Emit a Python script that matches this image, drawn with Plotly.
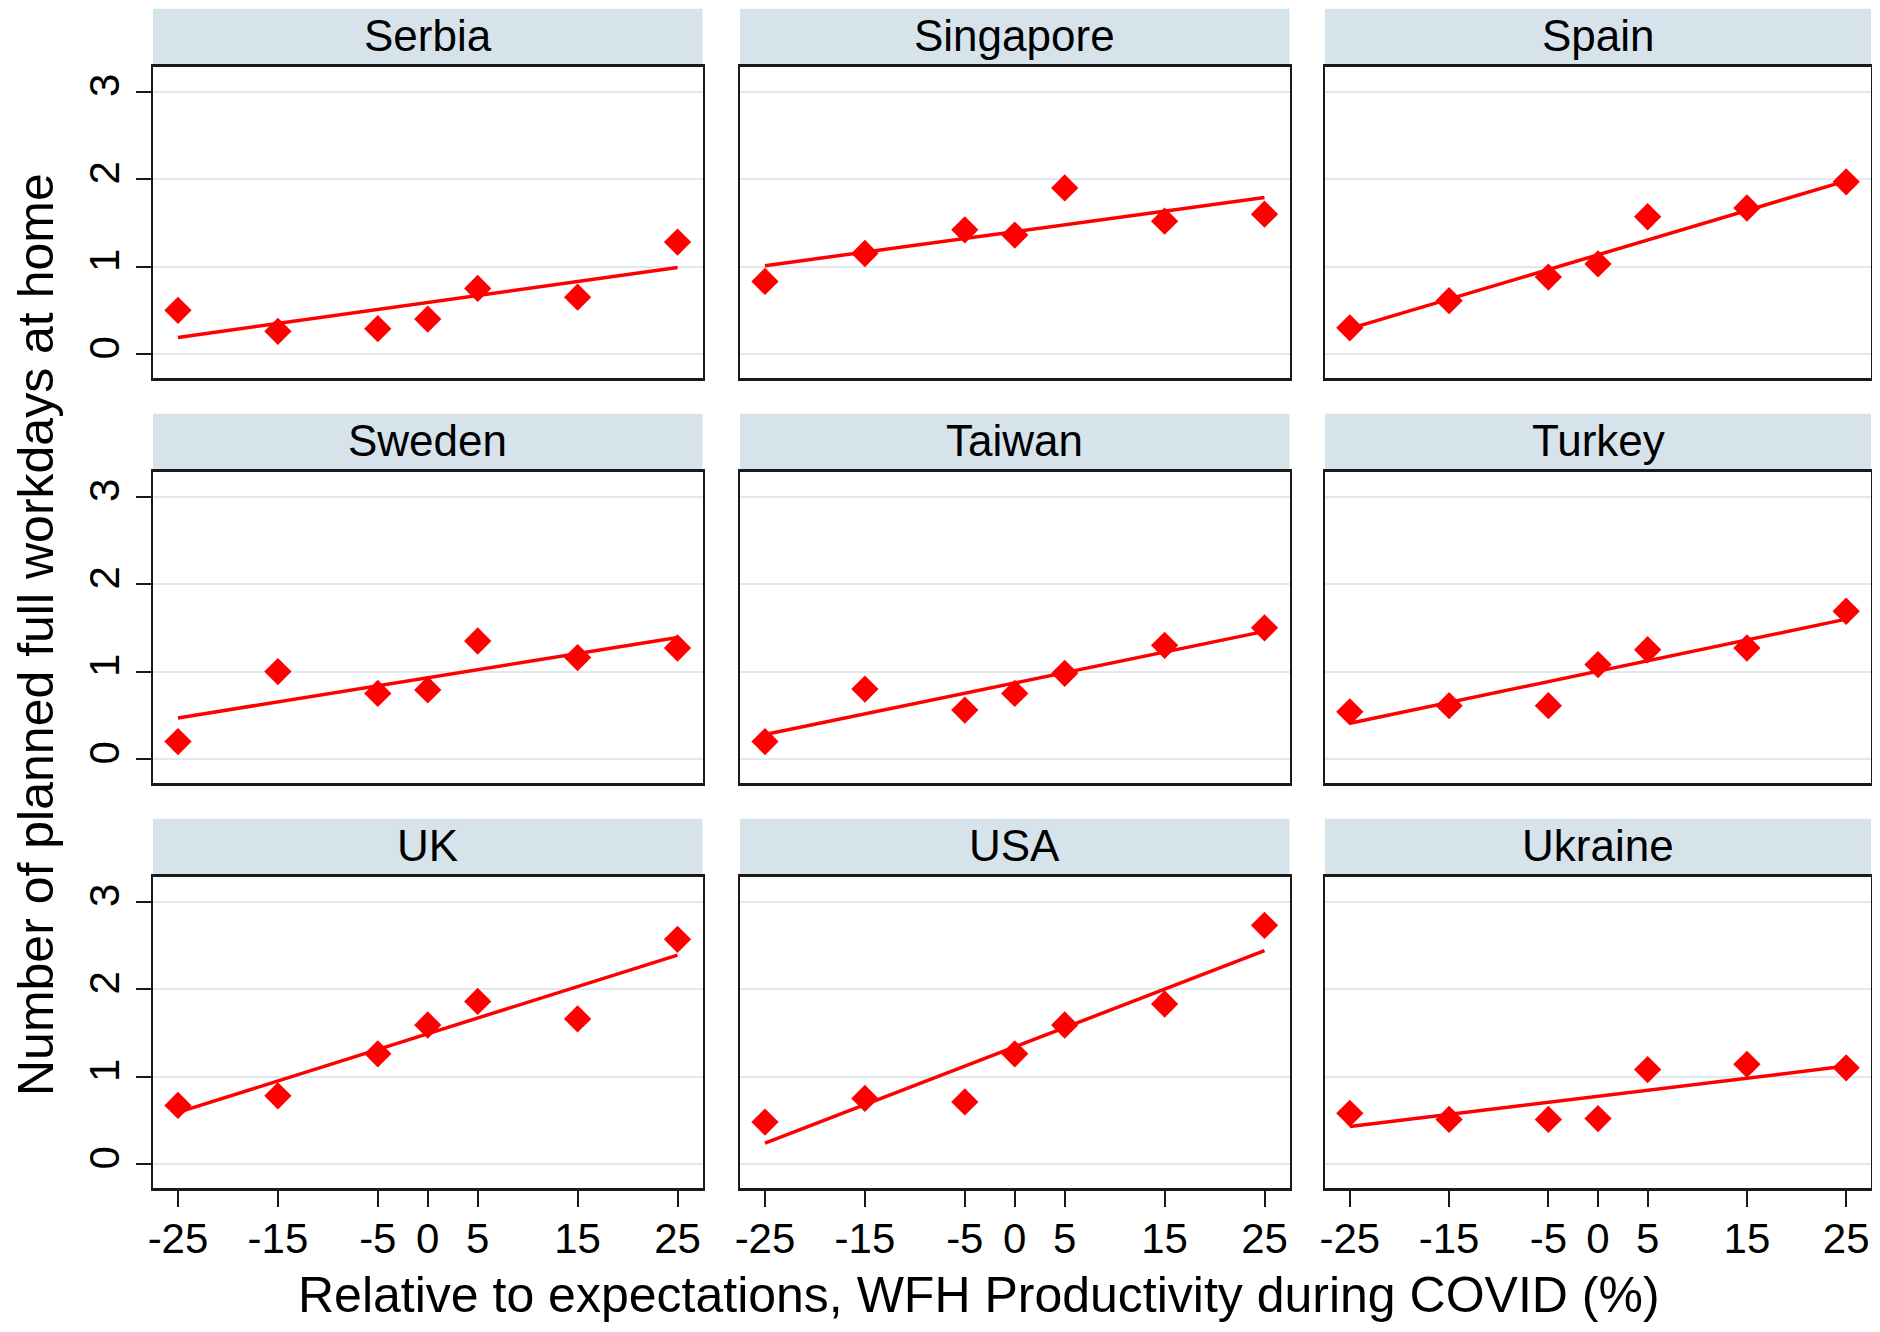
import plotly.graph_objects as go

# ---------------- data ----------------
countries = ["Serbia", "Singapore", "Spain", "Sweden", "Taiwan", "Turkey", "UK", "USA", "Ukraine"]
x_vals = [-25, -15, -5, 0, 5, 15, 25]

serbia = [0.50, 0.26, 0.29, 0.40, 0.75, 0.65, 1.28]
singapore = [0.83, 1.15, 1.42, 1.36, 1.90, 1.52, 1.60]
spain = [0.30, 0.61, 0.88, 1.03, 1.57, 1.67, 1.97]
sweden = [0.20, 1.00, 0.75, 0.79, 1.35, 1.16, 1.27]
taiwan = [0.20, 0.80, 0.56, 0.75, 0.98, 1.30, 1.50]
turkey = [0.54, 0.61, 0.61, 1.08, 1.25, 1.27, 1.69]
uk = [0.67, 0.78, 1.26, 1.59, 1.86, 1.66, 2.57]
usa = [0.48, 0.75, 0.71, 1.26, 1.59, 1.83, 2.73]
ukraine = [0.58, 0.51, 0.51, 0.52, 1.08, 1.14, 1.10]

# fitted line values at x = -25 and x = 25
fit_x = [-25, 25]
fit_start = [0.19, 1.01, 0.29, 0.47, 0.28, 0.41, 0.59, 0.24, 0.43]
fit_end = [0.99, 1.79, 1.98, 1.39, 1.46, 1.60, 2.39, 2.44, 1.12]

x_ticks = [-25, -15, -5, 0, 5, 15, 25]
y_ticks = [0, 1, 2, 3]

x_title = "Relative to expectations, WFH Productivity during COVID (%)"
y_title = "Number of planned full workdays at home"

series = [serbia, singapore, spain, sweden, taiwan, turkey, uk, usa, ukraine]

# ---------------- layout geometry (window pixels) ----------------
OFF = 8                      # default page margin around the plot div
W, H = 1880 - 2 * OFF, 1332 - 2 * OFF
col_left = [153, 740, 1325]
col_right = [702.5, 1289.5, 1871]
row_top = [66.7, 471.7, 876.7]
row_h = 311.3
strip_h = 58.0


def px_x(p):
    return min(1.0, max(0.0, (p - OFF) / W))


def px_y(p):
    return min(1.0, max(0.0, 1 - (p - OFF) / H))


FONT = "Liberation Sans, Arial, Helvetica, sans-serif"
RED = "#FF0000"
FRAME = "#1a1a1a"
GRID = "#DFE9EE"
STRIP = "#D7E3EA"

fig = go.Figure()
layout = dict(
    width=W, height=H,
    margin=dict(l=0, r=0, t=0, b=0, autoexpand=False),
    paper_bgcolor="white", plot_bgcolor="white",
    showlegend=False, hovermode=False,
    font=dict(family=FONT, color="black"),
)
shapes = []
annotations = []

for i, name in enumerate(countries):
    r, c = divmod(i, 3)
    k = i + 1
    xa = "x" if k == 1 else f"x{k}"
    ya = "y" if k == 1 else f"y{k}"
    top = row_top[r]
    xd = [px_x(col_left[c]), px_x(col_right[c])]
    yd = [px_y(top + row_h), px_y(top)]

    fig.add_trace(go.Scatter(
        x=fit_x, y=[fit_start[i], fit_end[i]], mode="lines",
        line=dict(color=RED, width=3.5), xaxis=xa, yaxis=ya))
    fig.add_trace(go.Scatter(
        x=x_vals, y=series[i], mode="markers",
        marker=dict(symbol="diamond", size=21, color=RED, line=dict(width=0)),
        xaxis=xa, yaxis=ya))

    bottom_row = (r == 2)
    first_col = (c == 0)
    layout[f"xaxis{'' if k == 1 else k}"] = dict(
        domain=xd, anchor=ya, range=[-27.5, 27.5],
        tickvals=x_ticks, ticktext=[str(v) for v in x_ticks],
        showticklabels=bottom_row,
        ticks="outside" if bottom_row else "", ticklen=16, tickwidth=2, tickcolor=FRAME,
        tickfont=dict(size=42, family=FONT, color="black"),
        ticklabelstandoff=-4,
        showgrid=False, zeroline=False,
        showline=True, linecolor=FRAME, linewidth=2.5, mirror=True,
        automargin=False, fixedrange=True,
    )
    layout[f"yaxis{'' if k == 1 else k}"] = dict(
        domain=yd, anchor=xa, range=[-0.274, 3.286],
        tickvals=y_ticks, ticktext=[str(v) for v in y_ticks],
        showticklabels=first_col, tickangle=-90,
        ticks="outside" if first_col else "", ticklen=15, tickwidth=2, tickcolor=FRAME,
        tickfont=dict(size=42, family=FONT, color="black"),
        showgrid=True, gridcolor=GRID, gridwidth=2,
        zeroline=False,
        showline=True, linecolor=FRAME, linewidth=2.5, mirror=True,
        automargin=False, fixedrange=True,
    )

    # strip header
    shapes.append(dict(
        type="rect", xref="paper", yref="paper", layer="below",
        x0=xd[0], x1=xd[1], y0=px_y(top - 1), y1=px_y(top - strip_h),
        fillcolor=STRIP, line=dict(width=0)))
    annotations.append(dict(
        text=name, xref="paper", yref="paper", showarrow=False,
        x=(xd[0] + xd[1]) / 2, y=px_y(top - strip_h / 2 - 2.5),
        xanchor="center", yanchor="middle",
        font=dict(size=44, family=FONT, color="black")))

annotations.append(dict(
    text=x_title, xref="paper", yref="paper", showarrow=False,
    x=px_x(979), y=0, xanchor="center", yanchor="bottom", borderpad=0,
    font=dict(size=50, family=FONT, color="black")))
annotations.append(dict(
    text=y_title, xref="paper", yref="paper", showarrow=False, textangle=-90,
    x=px_x(36), y=px_y(635), xanchor="center", yanchor="middle",
    font=dict(size=50, family=FONT, color="black")))

layout["shapes"] = shapes
layout["annotations"] = annotations
fig.update_layout(**layout)

fig.write_html("out.html", config={"displayModeBar": False, "staticPlot": True})
